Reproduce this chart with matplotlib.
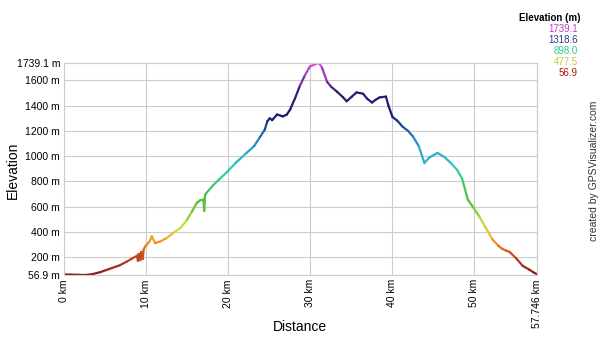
import matplotlib.pyplot as plt
from matplotlib.collections import LineCollection
from matplotlib.colors import LinearSegmentedColormap, Normalize
import numpy as np

# profile (km, m)
distance_km = [0.0, 0.8, 1.6, 2.5, 3.3, 4.4, 5.5, 6.8, 7.6, 8.4, 8.9, 9.0, 9.1, 9.3, 9.4, 9.6, 9.7,
               9.9, 10.4, 10.7, 11.1, 11.8, 12.5, 13.5, 14.2, 15.0, 15.6, 16.2, 16.6, 17.0, 17.1, 17.2,
               17.4, 18.2, 19.0, 19.9, 21.0, 22.3, 23.2, 23.9, 24.5, 24.8, 25.1, 25.4, 26.0, 26.7,
               27.2, 27.6, 28.2, 28.8, 29.4, 30.0, 30.6, 31.1, 31.5, 32.1, 32.6, 33.3, 34.0,
               34.5, 35.1, 35.7, 36.5, 37.0, 37.6, 38.0, 38.5, 39.3, 39.6, 40.1, 40.7, 41.3,
               42.0, 42.6, 43.3, 44.0, 44.6, 45.6, 46.5, 47.3, 48.0, 48.6, 49.3, 50.0, 50.7,
               51.5, 52.3, 53.0, 53.5, 54.0, 54.4, 55.2, 56.0, 56.8, 57.4, 57.746]
elevation_m = [62, 60, 59, 56.9, 62, 80, 105, 135, 162, 192, 210, 170, 225, 175, 240, 185, 260,
               285, 320, 365, 310, 325, 350, 400, 430, 495, 560, 630, 650, 655, 565, 690,
               710, 770, 820, 875, 950, 1027, 1080, 1150, 1210, 1275, 1300, 1285, 1330, 1315,
               1330, 1370, 1460, 1560, 1640, 1710, 1727, 1739.1, 1700, 1590, 1550, 1512, 1470,
               1435, 1470, 1505, 1495, 1455, 1425, 1445, 1465, 1472, 1400, 1310, 1280, 1235,
               1200, 1155, 1080, 945, 990, 1025, 990, 940, 890, 820, 655, 590, 520,
               430, 340, 290, 265, 250, 240, 190, 130, 100, 75, 64]

legend_values = [1739.1, 1318.6, 898.0, 477.5, 56.9]
legend_colors = ['#c040c0', '#283c8c', '#30c890', '#c8c830', '#b01010']
y_ticks = [56.9, 200, 400, 600, 800, 1000, 1200, 1400, 1600, 1739.1]
x_ticks = [0, 10, 20, 30, 40, 50, 57.746]

plt.rcParams['font.family'] = ['Liberation Sans', 'DejaVu Sans']

cmap = LinearSegmentedColormap.from_list('elev', [
    (0.0, '#8c1818'), (0.09, '#c04a20'), (0.15, '#f08c20'), (0.22, '#e0e040'),
    (0.34, '#50c030'), (0.5, '#30d0b0'), (0.62, '#3090d0'), (0.75, '#1a1a70'),
    (0.86, '#301a70'), (1.0, '#e050e0')])
norm = Normalize(56.9, 1739.1)

fig = plt.figure(figsize=(6, 3.4), dpi=100)
ax = fig.add_axes([0.107, 0.191, 0.788, 0.624])

pts = np.column_stack([distance_km, elevation_m]).reshape(-1, 1, 2)
segs = np.concatenate([pts[:-1], pts[1:]], axis=1)
mid = (np.array(elevation_m[:-1]) + np.array(elevation_m[1:])) / 2
lc = LineCollection(segs, colors=cmap(norm(mid)), linewidths=1.6, capstyle='round')
ax.add_collection(lc)

ax.set_xlim(0, 57.746)
ax.set_ylim(56.9, 1739.1)
ax.set_xticks(x_ticks)
ax.set_xticklabels([f'{t:g} km' for t in x_ticks], rotation=90, fontsize=7.5)
ax.set_yticks(y_ticks)
ax.set_yticklabels([f'{t:g} m' for t in y_ticks], fontsize=7.5)
ax.tick_params(length=0, pad=3)
ax.grid(True, color='#cccccc', linewidth=0.8)
ax.set_axisbelow(True)
for s in ax.spines.values():
    s.set_color('#cccccc')
    s.set_linewidth(0.8)

# axis titles placed by hand so they stay inside the 600x340 canvas
fig.text(0.022, 0.5, 'Elevation', fontsize=10, rotation=90, ha='center', va='center')
fig.text(0.5, 0.038, 'Distance', fontsize=10, ha='center', va='center')

fig.text(0.967, 0.947, 'Elevation (m)', fontsize=7, fontweight='bold', ha='right', va='center')
for i, (v, c) in enumerate(zip(legend_values, legend_colors)):
    fig.text(0.963, 0.914 - i * 0.032, f'{v:.1f}', fontsize=7, color=c, ha='right', va='center')
fig.text(0.99, 0.497, 'created by GPSVisualizer.com', fontsize=7.5, rotation=90,
         ha='center', va='center', color='#333333')

fig.savefig('out.png', dpi=100)
